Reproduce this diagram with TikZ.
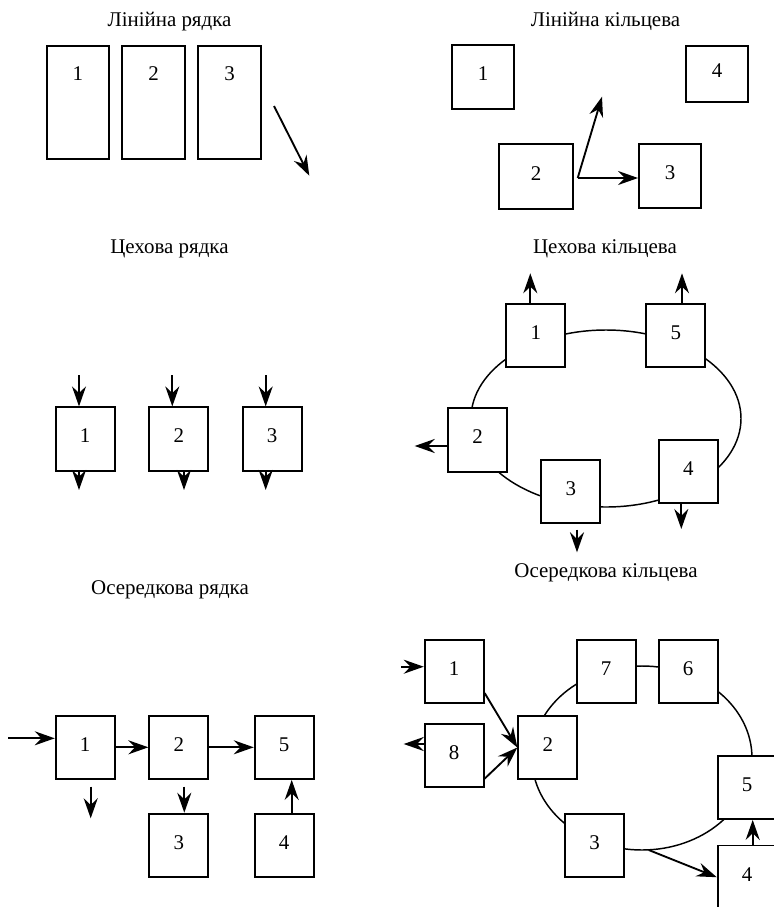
\documentclass[tikz,border=0pt]{standalone}
\usepackage{fontspec}
\setmainfont{Liberation Serif}
\usetikzlibrary{arrows.meta}
\tikzset{
every picture/.style={
line width=1.4pt, x=0.75pt, y=-0.75pt,
>={Stealth[length=15pt,width=10.5pt,inset=5pt]},
font=\fontsize{15.7}{19}\selectfont
}}
\tikzset{
cell/.style={draw, fill=white, inner sep=0pt, minimum width=44.25pt, minimum height=47.5pt, text depth=4.5pt},
ring/.style={line width=1.1pt},
title/.style={anchor=base}
}

\begin{document}
\begin{tikzpicture}
  \useasboundingbox (0,0) rectangle (774,907);

  % Лінійна рядка
  \node[title] (t1) at (169.5,26) {Лінійна рядка};
  \foreach \n/\x in {1/77.8,2/153.5,3/229.5}{
    \node[cell, minimum width=46.75pt, minimum height=85.25pt, text depth=42.75pt] (lr\n) at (\x,102.5) {\n};
  }
  \coordinate (lr-out) at (274,106);
  \coordinate (lr-end) at (309.3,175.7);
  \draw[->] (lr-out) -- (lr-end);

  % Лінійна кільцева
  \node[title] (t2) at (605.5,26) {Лінійна кільцева};
  \node[cell, minimum width=46.5pt, minimum height=48pt] (lk1) at (483,77) {1};
  \node[cell, minimum width=46.5pt, minimum height=42.5pt] (lk4) at (717,74) {4};
  \node[cell, minimum width=55.5pt, minimum height=48.75pt] (lk2) at (536,176.5) {2};
  \node[cell, minimum width=46.5pt, minimum height=48pt] (lk3) at (670,176) {3};
  \coordinate (lk-fork) at (577.7,178);
  \coordinate (lk-up) at (602,96.7);
  \draw[->] (lk-fork) -- (lk-up);
  \draw[->] (lk-fork) -- (lk3.west |- lk-fork);

  % Цехова рядка
  \node[title] (t3) at (169.5,253) {Цехова рядка};
  \foreach \n/\x/\i/\o in {1/85.2/79/79, 2/178.8/172.3/184, 3/272.2/265.7/265.7}{
    \node[cell] (cr\n) at (\x,439) {\n};
    \coordinate (cr-in\n) at (\i,375);
    \coordinate (cr-out\n) at (\o,490);
    \draw[->] (cr-in\n) -- (cr-in\n |- cr\n.north);
    \draw[->] (cr-out\n |- cr\n.south) -- (cr-out\n);
  }

  % Цехова кільцева
  \node[title] (t4) at (605,253) {Цехова кільцева};
  \draw[ring] (606,418.5) ellipse [x radius=135, y radius=88.5];
  \node[cell] (ck1) at (535.8,335.7) {1};
  \node[cell] (ck5) at (675.8,335.7) {5};
  \node[cell] (ck2) at (477.5,440) {2};
  \node[cell] (ck3) at (570.8,491.3) {3};
  \node[cell] (ck4) at (688.3,471.3) {4};
  \coordinate (ck-o1) at (530.3,273.3);
  \coordinate (ck-o5) at (682,273.3);
  \coordinate (ck-o2) at (414.7,446);
  \coordinate (ck-o4) at (681.3,529);
  \coordinate (ck-o3) at (577,552.3);
  \draw[->] (ck-o1 |- ck1.north) -- (ck-o1);
  \draw[->] (ck-o5 |- ck5.north) -- (ck-o5);
  \draw[->] (ck-o2 -| ck2.west) -- (ck-o2);
  \draw[->] (ck-o4 |- ck4.south) -- (ck-o4);
  \draw[->, shorten <=4.3pt] (ck-o3 |- ck3.south) -- (ck-o3);

  % Осередкова рядка
  \node[title] (t5) at (170,594) {Осередкова рядка};
  \node[cell] (or1) at (85.2,747.3) {1};
  \node[cell] (or2) at (178.8,747.3) {2};
  \node[cell] (or5) at (284.2,747.3) {5};
  \node[cell] (or3) at (178.8,845.3) {3};
  \node[cell] (or4) at (284.2,845.3) {4};
  \coordinate (or-in) at (8.3,738.3);
  \coordinate (or-o1a) at (90.7,786.7);
  \coordinate (or-o1b) at (90.7,818.3);
  \coordinate (or-23) at (184.3,786.7);
  \coordinate (or-45) at (291.7,800);
  \draw[->] (or-in) -- (or-in -| or1.west);
  \draw[->] (or1.east) -- (or2.west);
  \draw[->] (or2.east) -- (or5.west);
  \draw[->] (or-o1a) -- (or-o1b);
  \draw[->] (or-23) -- (or-23 |- or3.north);
  \draw[->] (or-45 |- or4.north) -- (or-45 |- or5.south);

  % Осередкова кільцева
  \node[title] (t6) at (606,577) {Осередкова кільцева};
  \draw[ring] (642,758) ellipse [x radius=110, y radius=92];
  \node[cell] (ok1) at (454.2,671.7) {1};
  \node[cell] (ok8) at (454.2,755.7) {8};
  \node[cell] (ok2) at (547.8,747.5) {2};
  \node[cell] (ok7) at (606.2,671.7) {7};
  \node[cell] (ok6) at (688.2,671.7) {6};
  \node[cell] (ok5) at (747.2,787.3) {5};
  \node[cell] (ok3) at (594.5,845.3) {3};
  \node[cell] (ok4) at (747.2,877.2) {4};
  \coordinate (ok-in) at (401,666.7);
  \coordinate (ok-out) at (403.7,744);
  \coordinate (ok-3) at (648.7,850);
  \coordinate (ok-45) at (752.7,832);
  \draw[->] (ok-in) -- (ok-in -| ok1.west);
  \draw[->] (ok-out -| ok8.west) -- (ok-out);
  \draw[->] (ok1.-35) -- (ok2.west);
  \draw[->] (ok8.-37) -- (ok2.west);
  \draw[->] (ok-3) -- (ok4.west);
  \draw[->] (ok-45 |- ok4.north) -- (ok-45 |- ok5.south);
\end{tikzpicture}
\end{document}
